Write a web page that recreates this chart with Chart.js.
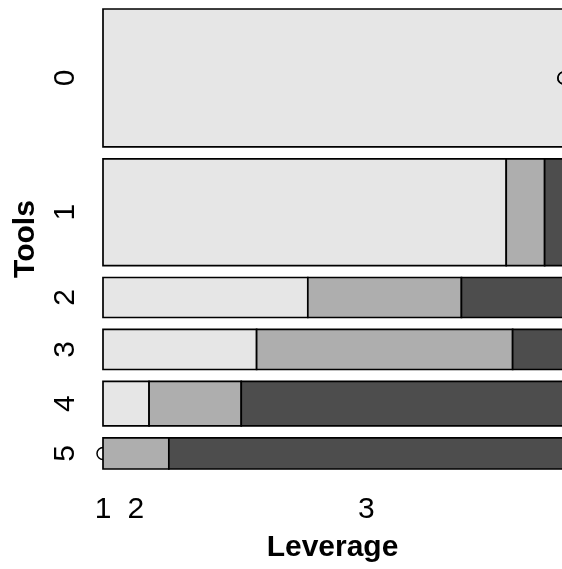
<!DOCTYPE html>
<html lang="en">
<head>
<meta charset="UTF-8">
<title>Tools by Leverage</title>
<script src="https://cdn.jsdelivr.net/npm/chart.js"></script>
<style>
  html, body { margin: 0; padding: 0; background: #fff; }
  #wrap { width: 562px; height: 569px; }
</style>
</head>
<body>
<div id="wrap"><canvas id="mosaic" width="562" height="569"></canvas></div>
<script>
// counts: one row per Tools level, one array per Leverage level
const tools = ['0', '1', '2', '3', '4', '5'];
const leverage = ['1', '2', '3'];
const lev1 = [31, 21, 4, 3, 1, 0];
const lev2 = [0, 2, 3, 5, 2, 1];
const lev3 = [0, 1, 2, 1, 7, 6];

const shades = ['#e6e6e6', '#aeaeae', '#4d4d4d'];
const rowGap = 0.026;   // space between rows, share of the plot height
const xEnd = 0.996;     // picture is cut just before the right edge
const txtFont = { family: "'Liberation Sans', Arial, Helvetica, sans-serif", size: 30 };
const boldFont = { family: "'Liberation Sans', Arial, Helvetica, sans-serif", size: 30, weight: 'bold' };

const levels = [lev1, lev2, lev3];
const rowTotals = tools.map((t, i) => levels.reduce((s, l) => s + l[i], 0));
const grand = rowTotals.reduce((a, b) => a + b, 0);
const usable = 1 - rowGap * (tools.length - 1);

const datasets = [];
const rowCenters = [];
let bottomCenters = [];
let seq = 0;
let yTop = 0;

tools.forEach((t, i) => {
    const yBot = yTop + rowTotals[i] / grand * usable;
    const yMid = (yTop + yBot) / 2;
    rowCenters.push(yMid);
    let x0 = 0;
    const centers = [];
    levels.forEach((lev, j) => {
        const x1 = x0 + lev[i] / rowTotals[i];
        centers.push((x0 + x1) / 2);
        if (lev[i] === 0) {
            // empty cell -> small circle, like R does
            datasets.push({
                type: 'scatter',
                data: [{ x: x0, y: yMid }],
                pointRadius: 6,
                pointBorderWidth: 1.5,
                pointBorderColor: '#000',
                pointBackgroundColor: 'rgba(0,0,0,0)',
                clip: false,
                order: -seq
            });
        } else {
            datasets.push({
                type: 'scatter',
                showLine: true,
                data: [
                    { x: x0, y: yTop }, { x: x1, y: yTop },
                    { x: x1, y: yBot }, { x: x0, y: yBot },
                    { x: x0, y: yTop }
                ],
                fill: 'shape',
                backgroundColor: shades[j],
                borderColor: '#000',
                borderWidth: 1.7,
                borderCapStyle: 'square',
                borderJoinStyle: 'miter',
                pointRadius: 0,
                tension: 0,
                clip: false,
                order: -seq
            });
        }
        seq++;
        x0 = x1;
    });
    bottomCenters = centers;
    yTop = yBot + rowGap;
});

new Chart(document.getElementById('mosaic'), {
    type: 'scatter',
    data: { datasets: datasets },
    options: {
        responsive: false,
        animation: false,
        events: [],
        layout: { autoPadding: false, padding: { top: 9, left: 0, right: 0, bottom: 0 } },
        plugins: { legend: { display: false }, tooltip: { enabled: false } },
        scales: {
            x: {
                type: 'linear',
                min: 0,
                max: xEnd,
                grid: { display: false, drawTicks: false },
                border: { display: false },
                afterBuildTicks: s => { s.ticks = bottomCenters.map(v => ({ value: v })); },
                afterFit: s => { s.height = 100; s.paddingLeft = 0; s.paddingRight = 0; },
                ticks: {
                    autoSkip: false,
                    maxRotation: 0,
                    padding: 23,
                    color: '#000',
                    font: txtFont,
                    callback: (v, i) => leverage[i]
                },
                title: {
                    display: true,
                    text: 'Leverage',
                    color: '#000',
                    font: boldFont,
                    padding: { top: 0, bottom: 3 }
                }
            },
            y: {
                type: 'linear',
                min: 0,
                max: 1,
                reverse: true,
                grid: { display: false, drawTicks: false },
                border: { display: false },
                afterBuildTicks: s => { s.ticks = rowCenters.map(v => ({ value: v })); },
                afterFit: s => { s.width = 103; s.paddingTop = 0; s.paddingBottom = 0; },
                ticks: {
                    autoSkip: false,
                    minRotation: 90,
                    maxRotation: 90,
                    crossAlign: 'center',
                    padding: 29,
                    color: '#000',
                    font: txtFont,
                    callback: (v, i) => tools[i]
                },
                title: {
                    display: true,
                    text: 'Tools',
                    color: '#000',
                    font: boldFont,
                    padding: { top: 8, bottom: 0 }
                }
            }
        }
    }
});
</script>
</body>
</html>
